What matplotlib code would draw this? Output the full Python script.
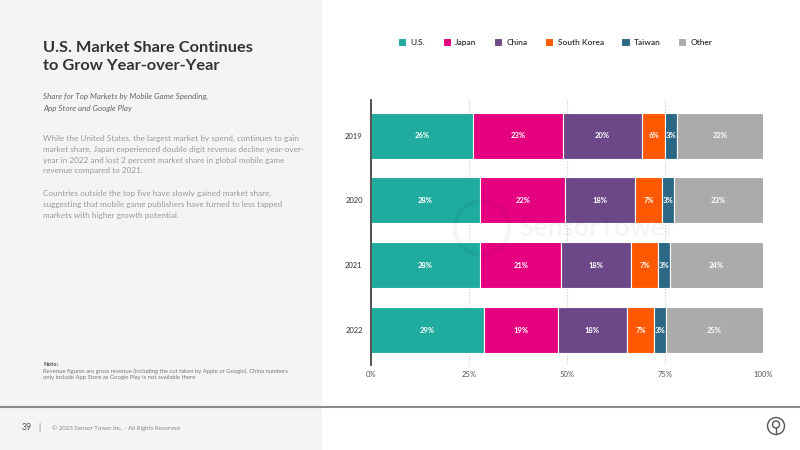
import numpy as np
import matplotlib.pyplot as plt
from matplotlib.patches import Rectangle, Circle

years = ["2019", "2020", "2021", "2022"]
markets = ["U.S.", "Japan", "China", "South Korea", "Taiwan", "Other"]
colors = ["#1fab9e", "#e4007f", "#6c4889", "#ff5800", "#2d6786", "#ababab"]

us = [26.1, 27.9, 27.9, 28.8]
japan = [23.0, 21.7, 20.6, 18.8]
china = [20.0, 17.8, 17.9, 17.8]
south_korea = [6.0, 6.9, 6.9, 6.9]
taiwan = [3.0, 3.1, 3.1, 3.0]
other = [21.9, 22.6, 23.6, 24.7]
series = [us, japan, china, south_korea, taiwan, other]

xticks = [0, 25, 50, 75, 100]
xticklabels = ["0%", "25%", "50%", "75%", "100%"]

W, H = 800, 450
fig = plt.figure(figsize=(8, 4.5), dpi=100)
plt.rcParams["font.family"] = ["Lato", "DejaVu Sans"]


def fx(x):
    return x / W


def fy(y):
    return 1 - y / H


# left grey panel
fig.patches.append(Rectangle((0, 0), fx(322), 1, transform=fig.transFigure,
                             facecolor="#f4f4f4", edgecolor="none", zorder=0))
# footer rule
fig.add_artist(plt.Line2D([0, 1], [fy(407), fy(407)], transform=fig.transFigure,
                          color="#8c8c8c", lw=1.5))

# text on the left
fig.text(fx(43), fy(48), "U.S. Market Share Continues", fontsize=11.8,
         fontweight="bold", color="#333333", va="center")
fig.text(fx(43), fy(66), "to Grow Year-over-Year", fontsize=11.8,
         fontweight="bold", color="#333333", va="center")
fig.text(fx(43), fy(96), "Share for Top Markets by Mobile Game Spending,",
         fontsize=5.8, style="italic", color="#666666", va="center")
fig.text(fx(43), fy(109), "App Store and Google Play",
         fontsize=5.8, style="italic", color="#666666", va="center")
para1 = ["While the United States, the largest market by spend, continues to gain",
         "market share, Japan experienced double digit revenue decline year-over-",
         "year in 2022 and lost 2 percent market share in global mobile game",
         "revenue compared to 2021."]
para2 = ["Countries outside the top five have slowly gained market share,",
         "suggesting that mobile game publishers have turned to less tapped",
         "markets with higher growth potential."]
for i, line in enumerate(para1):
    fig.text(fx(43), fy(138 + 11 * i), line, fontsize=5.9, color="#9a9a9a", va="center")
for i, line in enumerate(para2):
    fig.text(fx(43), fy(193 + 11 * i), line, fontsize=5.9, color="#9a9a9a", va="center")

fig.text(fx(43), fy(364), "Note:", fontsize=4.3, fontweight="bold", color="#555555", va="center")
fig.text(fx(43), fy(371),
         "Revenue figures are gross revenue (including the cut taken by Apple or Google). China numbers",
         fontsize=4.2, color="#777777", va="center")
fig.text(fx(43), fy(378), "only include App Store as Google Play is not available there",
         fontsize=4.2, color="#777777", va="center")
fig.text(fx(22), fy(428), "39", fontsize=6.3, color="#555555", va="center")
fig.text(fx(38), fy(428), "|", fontsize=6.3, color="#888888", va="center")
fig.text(fx(52), fy(428), "© 2023 Sensor Tower Inc. - All Rights Reserved",
         fontsize=4.4, color="#888888", va="center")

# footer icon
fig.add_artist(Circle((7.76, 0.24), 0.085, transform=fig.dpi_scale_trans,
                      facecolor="none", edgecolor="#555555", lw=1.0))
fig.add_artist(Circle((7.76, 0.255), 0.035, transform=fig.dpi_scale_trans,
                      facecolor="none", edgecolor="#555555", lw=1.0))
fig.add_artist(plt.Line2D([7.76, 7.76], [0.17, 0.22], transform=fig.dpi_scale_trans,
                          color="#555555", lw=1.0))

# watermark
fig.add_artist(Circle((4.82, 2.22), 0.27, transform=fig.dpi_scale_trans,
                      facecolor="none", edgecolor="#000000", lw=3, alpha=0.04, zorder=6))
fig.text(fx(597), fy(228), "SensorTower", fontsize=19, fontweight="bold",
         color="#000000", alpha=0.04, ha="center", va="center", zorder=6)

# chart
ax = fig.add_axes([fx(371), fy(365), fx(392), (365 - 100) / H])
y = np.arange(len(years))
left = np.zeros(len(years))
for name, vals, c in zip(markets, series, colors):
    vals = np.array(vals)
    ax.barh(y, vals, left=left, height=0.71, color=c, edgecolor="white",
            linewidth=0.8, label=name, zorder=3)
    for yi, (l, v) in enumerate(zip(left, vals)):
        ax.text(l + v / 2, yi, f"{round(v)}%", ha="center", va="center",
                fontsize=5.5, fontweight="bold", color="white", zorder=4)
    left += vals

ax.set_xlim(0, 100)
ax.set_ylim(3.54, -0.55)
ax.set_yticks(y)
ax.set_yticklabels(years, fontsize=5.5, color="#333333")
ax.set_xticks(xticks)
ax.set_xticklabels(xticklabels, fontsize=5.5, color="#555555")
ax.tick_params(length=0)
ax.tick_params(axis="x", pad=4)
ax.tick_params(axis="y", pad=6)
ax.grid(axis="x", linestyle=(0, (1, 1.5)), color="#c8c8c8", lw=0.8, zorder=0)
for s in ["top", "right", "bottom"]:
    ax.spines[s].set_visible(False)
ax.spines["left"].set_color("#333333")
ax.spines["left"].set_linewidth(1.2)
ax.spines["left"].set_zorder(5)
ax.set_facecolor("none")

leg = fig.legend(loc="center left", bbox_to_anchor=(fx(398), fy(42)), ncol=6,
                 frameon=False, fontsize=6, handlelength=1.0, handleheight=1.0,
                 columnspacing=2.1, handletextpad=0.5, borderaxespad=0,
                 borderpad=0)
for t in leg.get_texts():
    t.set_color("#333333")
    t.set_fontweight("semibold")

fig.savefig("out.png", dpi=100)
